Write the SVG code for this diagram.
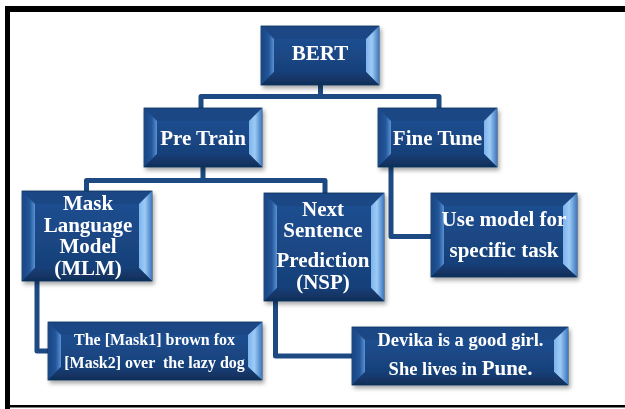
<svg xmlns="http://www.w3.org/2000/svg" width="625" height="409" viewBox="0 0 625 409">
  <defs>
    <linearGradient id="gFace" x1="0" y1="0" x2="0" y2="1">
      <stop offset="0" stop-color="#1E4E90"/>
      <stop offset="1" stop-color="#174079"/>
    </linearGradient>
    <linearGradient id="gLeft" x1="0" y1="0" x2="1" y2="0">
      <stop offset="0" stop-color="#1A4582"/>
      <stop offset="0.6" stop-color="#22569A"/>
      <stop offset="1" stop-color="#5A92D4"/>
    </linearGradient>
    <linearGradient id="gRight" x1="0" y1="0" x2="1" y2="0">
      <stop offset="0" stop-color="#7DB3EC"/>
      <stop offset="0.45" stop-color="#9DCBF6"/>
      <stop offset="1" stop-color="#3F78BE"/>
    </linearGradient>
    <linearGradient id="gBottom" x1="0" y1="0" x2="0" y2="1">
      <stop offset="0" stop-color="#173F77"/>
      <stop offset="1" stop-color="#102E58"/>
    </linearGradient>
    <filter id="shadow" x="-10%" y="-10%" width="125%" height="130%">
      <feDropShadow dx="2" dy="3" stdDeviation="2" flood-color="#000" flood-opacity="0.35"/>
    </filter>
  </defs>
  <style>
    .box { filter: url(#shadow); }
    .edge { fill: #1B4785; stroke: #0F2F5A; stroke-width: 0.8; }
    .face { fill: url(#gFace); }
    .bl { fill: url(#gLeft); }
    .br { fill: url(#gRight); }
    .bb { fill: url(#gBottom); }
    .lbl { font-family: "Liberation Serif", "Times New Roman", serif; font-weight: bold; fill: #FFFFFF; text-anchor: middle; }
    .big { font-size: 21px; }
    .mid { font-size: 18.5px; }
    .small { font-size: 16px; }
    .conn { fill: none; stroke: #1D4A82; stroke-width: 5; stroke-linejoin: round; stroke-linecap: butt; }
    .frame { fill: #000000; }
  </style>

  <!-- page frame -->
  <rect x="0" y="0" width="625" height="409" fill="#FFFFFF"/>
  <rect class="frame" x="5" y="6" width="620" height="6"/>
  <rect class="frame" x="5" y="6" width="5" height="403"/>
  <rect class="frame" x="10" y="405" width="615" height="2.5"/>

  <!-- connectors -->
  <g id="connectors">
    <path class="conn" d="M320.5,85 V96.5 M201,108 V96.5 H439 V108"/>
    <path class="conn" d="M203,167 V180.5 M86.5,192 V180.5 H325 V193"/>
    <path class="conn" d="M391,167 V236.5 H432"/>
    <path class="conn" d="M37,281 V351 H49"/>
    <path class="conn" d="M275.5,301 V356 H353"/>
  </g>

  <!-- BERT -->
  <g id="bert" class="box">
    <rect class="edge" x="261" y="26" width="118" height="59"/>
    <polygon class="bl" points="261,26 274,39 274,72 261,85"/>
    <polygon class="br" points="366,39 379,26 379,85 366,72"/>
    <polygon class="bb" points="261,85 274,72 366,72 379,85"/>
    <rect class="face" x="274" y="39" width="92" height="33"/>
    <text class="lbl big" x="320" y="60">BERT</text>
  </g>

  <!-- Pre Train -->
  <g id="pretrain" class="box">
    <rect class="edge" x="144" y="108" width="118" height="59"/>
    <polygon class="bl" points="144,108 157,121 157,154 144,167"/>
    <polygon class="br" points="249,121 262,108 262,167 249,154"/>
    <polygon class="bb" points="144,167 157,154 249,154 262,167"/>
    <rect class="face" x="157" y="121" width="92" height="33"/>
    <text class="lbl big" x="203" y="145">Pre Train</text>
  </g>

  <!-- Fine Tune -->
  <g id="finetune" class="box">
    <rect class="edge" x="378" y="108" width="119" height="59"/>
    <polygon class="bl" points="378,108 391,121 391,154 378,167"/>
    <polygon class="br" points="484,121 497,108 497,167 484,154"/>
    <polygon class="bb" points="378,167 391,154 484,154 497,167"/>
    <rect class="face" x="391" y="121" width="93" height="33"/>
    <text class="lbl big" x="437.5" y="145">Fine Tune</text>
  </g>

  <!-- Mask Language Model -->
  <g id="mlm" class="box">
    <rect class="edge" x="22" y="191" width="130" height="90"/>
    <polygon class="bl" points="22,191 35,204 35,268 22,281"/>
    <polygon class="br" points="139,204 152,191 152,281 139,268"/>
    <polygon class="bb" points="22,281 35,268 139,268 152,281"/>
    <rect class="face" x="35" y="204" width="104" height="64"/>
    <text class="lbl big" x="88" y="210">Mask</text>
    <text class="lbl big" x="88" y="231.5">Language</text>
    <text class="lbl big" x="88" y="253">Model</text>
    <text class="lbl big" x="88" y="275">(MLM)</text>
  </g>

  <!-- Next Sentence Prediction -->
  <g id="nsp" class="box">
    <rect class="edge" x="264" y="193" width="120" height="108"/>
    <polygon class="bl" points="264,193 277,206 277,288 264,301"/>
    <polygon class="br" points="371,206 384,193 384,301 371,288"/>
    <polygon class="bb" points="264,301 277,288 371,288 384,301"/>
    <rect class="face" x="277" y="206" width="94" height="82"/>
    <text class="lbl big" x="323" y="215.5">Next</text>
    <text class="lbl big" x="323" y="237">Sentence</text>
    <text class="lbl big" x="323" y="267">Prediction</text>
    <text class="lbl big" x="323" y="289">(NSP)</text>
  </g>

  <!-- Use model for specific task -->
  <g id="usemodel" class="box">
    <rect class="edge" x="431" y="193" width="146" height="84"/>
    <polygon class="bl" points="431,193 444,206 444,264 431,277"/>
    <polygon class="br" points="563,206 577,193 577,277 563,264"/>
    <polygon class="bb" points="431,277 444,264 563,264 577,277"/>
    <rect class="face" x="444" y="206" width="119" height="58"/>
    <text class="lbl big" x="504" y="226">Use model for</text>
    <text class="lbl big" x="504" y="256.5">specific task</text>
  </g>

  <!-- MLM example sentence -->
  <g id="mlmexample" class="box">
    <rect class="edge" x="48" y="322" width="214" height="58"/>
    <polygon class="bl" points="48,322 61,335 61,367 48,380"/>
    <polygon class="br" points="248,335 262,322 262,380 248,367"/>
    <polygon class="bb" points="48,380 61,367 248,367 262,380"/>
    <rect class="face" x="61" y="335" width="187" height="32"/>
    <text class="lbl small" x="154.5" y="344.5">The [Mask1] brown fox</text>
    <text class="lbl small" x="154.5" y="367.5" style="white-space:pre">[Mask2] over  the lazy dog</text>
  </g>

  <!-- NSP example sentences -->
  <g id="nspexample" class="box">
    <rect class="edge" x="352" y="327" width="216" height="58"/>
    <polygon class="bl" points="352,327 365,340 365,372 352,385"/>
    <polygon class="br" points="554,340 568,327 568,385 554,372"/>
    <polygon class="bb" points="352,385 365,372 554,372 568,385"/>
    <rect class="face" x="365" y="340" width="189" height="32"/>
    <text class="lbl mid" x="460.5" y="346">Devika is a good girl.</text>
    <text class="lbl mid" x="460.5" y="375">She lives in <tspan class="big">Pune.</tspan></text>
  </g>
</svg>
